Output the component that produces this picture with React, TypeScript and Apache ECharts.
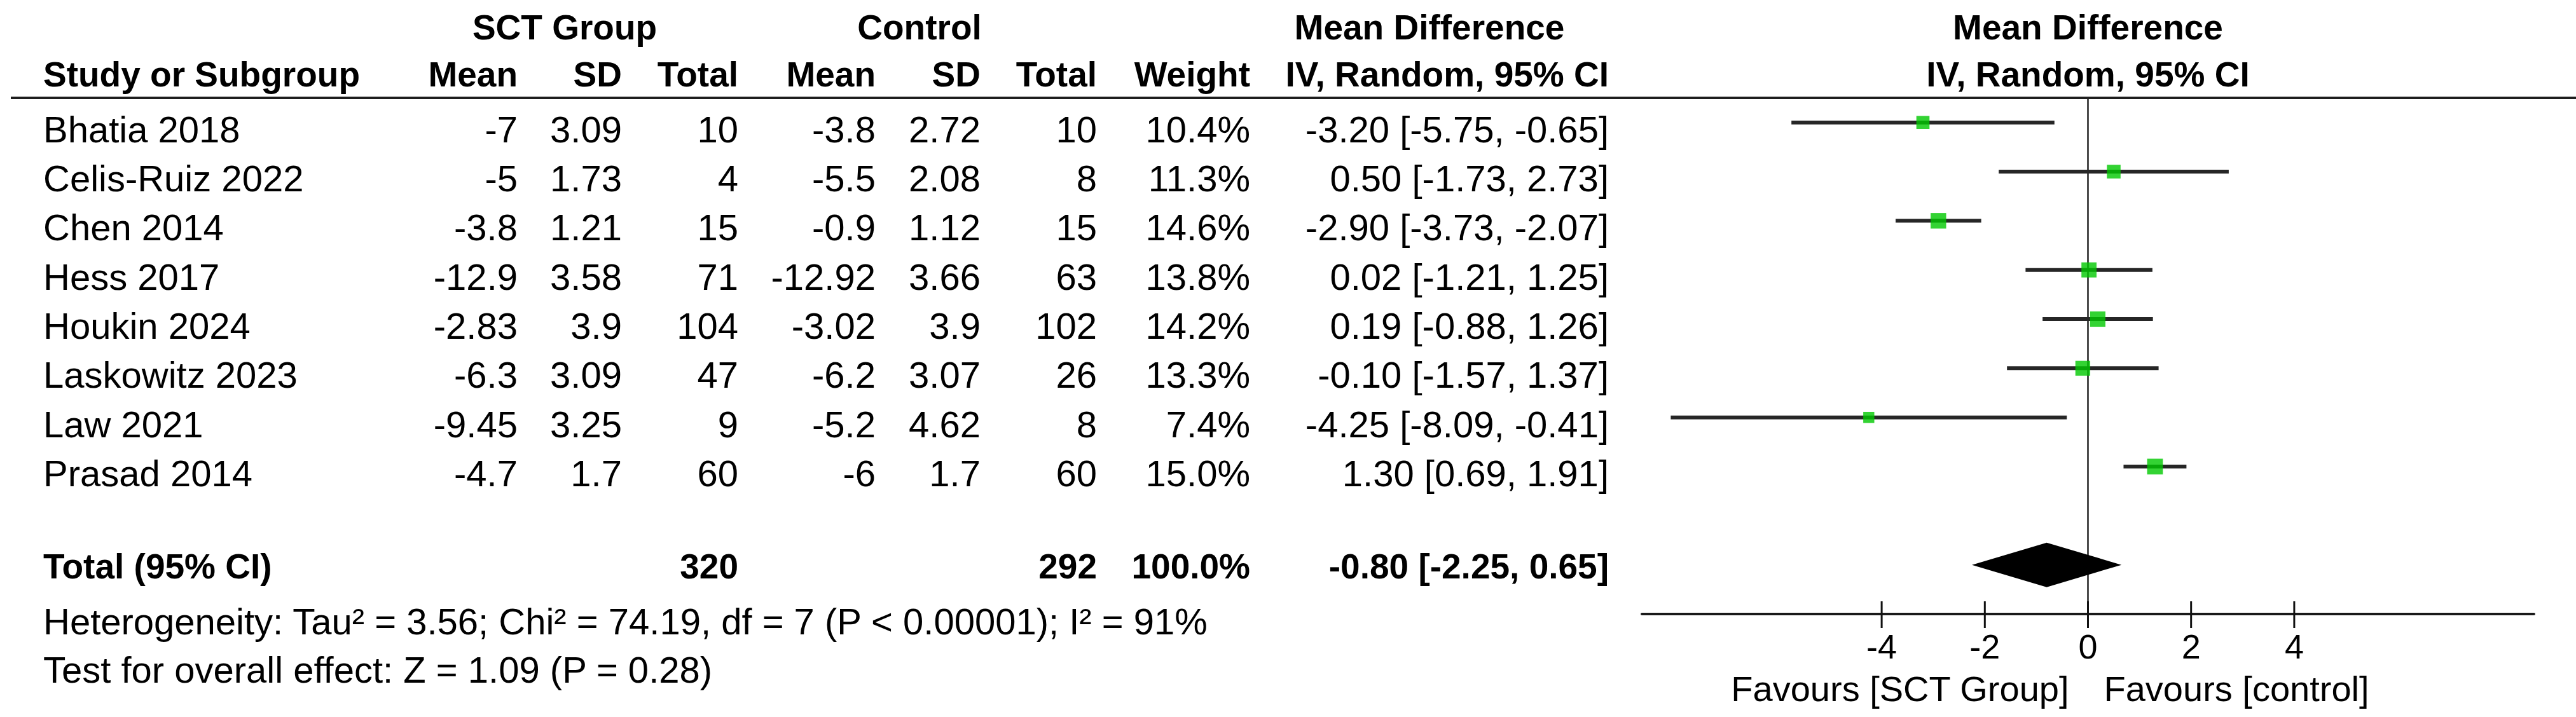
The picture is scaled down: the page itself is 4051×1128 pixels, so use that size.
import React, { useEffect, useRef } from "react";
import * as echarts from "echarts";

// ---------- data ----------
const studies = [
  "Bhatia 2018",
  "Celis-Ruiz 2022",
  "Chen 2014",
  "Hess 2017",
  "Houkin 2024",
  "Laskowitz 2023",
  "Law 2021",
  "Prasad 2014",
];
const sctMean = [-7, -5, -3.8, -12.9, -2.83, -6.3, -9.45, -4.7];
const sctSD = [3.09, 1.73, 1.21, 3.58, 3.9, 3.09, 3.25, 1.7];
const sctTotal = [10, 4, 15, 71, 104, 47, 9, 60];
const ctrlMean = [-3.8, -5.5, -0.9, -12.92, -3.02, -6.2, -5.2, -6];
const ctrlSD = [2.72, 2.08, 1.12, 3.66, 3.9, 3.07, 4.62, 1.7];
const ctrlTotal = [10, 8, 15, 63, 102, 26, 8, 60];
const weights = [10.4, 11.3, 14.6, 13.8, 14.2, 13.3, 7.4, 15.0];
const meanDiff = [-3.2, 0.5, -2.9, 0.02, 0.19, -0.1, -4.25, 1.3];
const ciLow = [-5.75, -1.73, -3.73, -1.21, -0.88, -1.57, -8.09, 0.69];
const ciHigh = [-0.65, 2.73, -2.07, 1.25, 1.26, 1.37, -0.41, 1.91];

const totalSct = 320;
const totalCtrl = 292;
const totalWeight = 100.0;
const totalMD = -0.8;
const totalLow = -2.25;
const totalHigh = 0.65;

const xTicks = [-4, -2, 0, 2, 4];
const heterogeneityText =
  "Heterogeneity: Tau² = 3.56; Chi² = 74.19, df = 7 (P < 0.00001); I² = 91%";
const overallText = "Test for overall effect: Z = 1.09 (P = 0.28)";
const favoursLeft = "Favours [SCT Group]";
const favoursRight = "Favours [control]";

// ---------- layout ----------
const W = 4051;
const H = 1128;
const FONT = "'Liberation Sans', Arial, Helvetica, sans-serif";
const FS = 58;
const FSB = 55;
const INK = "#000";

const fmt2 = (v: number) => v.toFixed(2);
const ciText = (m: number, l: number, h: number) =>
  `${fmt2(m)} [${fmt2(l)}, ${fmt2(h)}]`;

export default function App() {
  const ref = useRef<HTMLDivElement>(null);

  useEffect(() => {
    if (!ref.current) return;
    const chart = echarts.init(ref.current, null, {
      renderer: "svg",
      width: W,
      height: H,
    });
    const totalIdx = studies.length + 1;

    chart.setOption({
      animation: false,
      backgroundColor: "#ffffff",
      grid: { left: 2582, right: 66, top: 154, bottom: 162, containLabel: false },
      xAxis: {
        type: "value",
        min: -8.65,
        max: 8.65,
        position: "bottom",
        axisLine: { show: true, onZero: false, lineStyle: { color: "#1a1a1a", width: 4 } },
        axisTick: { show: false },
        axisLabel: {
          show: true,
          customValues: xTicks,
          fontSize: 54,
          fontFamily: FONT,
          color: INK,
          margin: 24,
        },
        splitLine: { show: false },
      },
      yAxis: {
        type: "value",
        inverse: true,
        min: -0.5,
        max: 10,
        axisLine: { show: true, onZero: true, lineStyle: { color: "#222", width: 2.5 } },
        axisTick: { show: false },
        axisLabel: { show: false },
        splitLine: { show: false },
      },
      series: [
        {
          type: "custom",
          name: "ticks",
          clip: false,
          silent: true,
          data: xTicks.map((v) => [v, 10]),
          encode: { x: 0, y: 1 },
          renderItem: (_p: any, api: any) => {
            const pt = api.coord([api.value(0), api.value(1)]);
            return {
              type: "line",
              shape: { x1: pt[0], y1: pt[1] - 20, x2: pt[0], y2: pt[1] + 22 },
              style: { stroke: "#111", lineWidth: 3 },
            };
          },
        },
        {
          type: "custom",
          name: "CI",
          clip: false,
          silent: true,
          data: studies.map((_, i) => [i, ciLow[i], ciHigh[i]]),
          encode: { x: [1, 2], y: 0 },
          renderItem: (_p: any, api: any) => {
            const row = api.value(0);
            const a = api.coord([api.value(1), row]);
            const b = api.coord([api.value(2), row]);
            return {
              type: "line",
              shape: { x1: a[0], y1: a[1], x2: b[0], y2: b[1] },
              style: { stroke: "#262626", lineWidth: 6 },
            };
          },
          z: 3,
        },
        {
          type: "scatter",
          name: "Mean Difference",
          symbol: "rect",
          silent: true,
          data: meanDiff.map((m, i) => [m, i, weights[i]]),
          symbolSize: (v: number[]) => 6.4 * Math.sqrt(v[2]),
          itemStyle: { color: "#00c800" },
          z: 4,
        },
        {
          type: "custom",
          name: "Total",
          clip: false,
          silent: true,
          data: [[totalIdx, totalLow, totalMD, totalHigh]],
          encode: { x: [1, 2, 3], y: 0 },
          renderItem: (_p: any, api: any) => {
            const row = api.value(0);
            const l = api.coord([api.value(1), row]);
            const m = api.coord([api.value(2), row]);
            const h = api.coord([api.value(3), row]);
            const hh = 35;
            return {
              type: "polygon",
              shape: {
                points: [
                  [l[0], l[1]],
                  [m[0], m[1] - hh],
                  [h[0], h[1]],
                  [m[0], m[1] + hh],
                ],
              },
              style: { fill: "#000" },
            };
          },
          z: 4,
        },
      ],
    });

    const yOf = (v: number) =>
      chart.convertToPixel({ yAxisIndex: 0 } as any, v) as unknown as number;
    const xZero = chart.convertToPixel({ xAxisIndex: 0 } as any, 0) as unknown as number;

    const txt = (
      text: string,
      x: number,
      y: number,
      align: string,
      bold = false,
      size?: number
    ) => ({
      type: "text",
      x,
      y,
      silent: true,
      style: {
        text,
        fontSize: size ?? (bold ? FSB : FS),
        fontFamily: FONT,
        fontWeight: bold ? "bold" : "normal",
        fill: INK,
        align,
        textAlign: align,
        verticalAlign: "middle",
        textVerticalAlign: "middle",
      },
    });

    const els: any[] = [];
    // header line
    els.push({
      type: "line",
      silent: true,
      shape: { x1: 17, y1: 154, x2: W, y2: 154 },
      style: { stroke: "#1e1e1e", lineWidth: 4 },
    });
    // header rows
    const h1 = 43;
    const h2 = 117;
    els.push(txt("SCT Group", 888, h1, "center", true));
    els.push(txt("Control", 1446, h1, "center", true));
    els.push(txt("Mean Difference", 2248, h1, "center", true));
    els.push(txt("Mean Difference", xZero, h1, "center", true));
    els.push(txt("Study or Subgroup", 68, h2, "left", true));
    els.push(txt("Mean", 814, h2, "right", true));
    els.push(txt("SD", 978, h2, "right", true));
    els.push(txt("Total", 1161, h2, "right", true));
    els.push(txt("Mean", 1377, h2, "right", true));
    els.push(txt("SD", 1542, h2, "right", true));
    els.push(txt("Total", 1725, h2, "right", true));
    els.push(txt("Weight", 1966, h2, "right", true));
    els.push(txt("IV, Random, 95% CI", 2530, h2, "right", true));
    els.push(txt("IV, Random, 95% CI", xZero, h2, "center", true));

    // study rows
    studies.forEach((s, i) => {
      const y = yOf(i) + 10.5;
      els.push(txt(s, 68, y, "left"));
      els.push(txt(String(sctMean[i]), 814, y, "right"));
      els.push(txt(String(sctSD[i]), 978, y, "right"));
      els.push(txt(String(sctTotal[i]), 1161, y, "right"));
      els.push(txt(String(ctrlMean[i]), 1377, y, "right"));
      els.push(txt(String(ctrlSD[i]), 1542, y, "right"));
      els.push(txt(String(ctrlTotal[i]), 1725, y, "right"));
      els.push(txt(weights[i].toFixed(1) + "%", 1966, y, "right"));
      els.push(txt(ciText(meanDiff[i], ciLow[i], ciHigh[i]), 2530, y, "right"));
    });

    // total row
    const yt = yOf(totalIdx) + 2;
    els.push(txt("Total (95% CI)", 68, yt, "left", true));
    els.push(txt(String(totalSct), 1161, yt, "right", true));
    els.push(txt(String(totalCtrl), 1725, yt, "right", true));
    els.push(txt(totalWeight.toFixed(1) + "%", 1966, yt, "right", true));
    els.push(txt(ciText(totalMD, totalLow, totalHigh), 2530, yt, "right", true));

    // footnotes
    els.push(txt(heterogeneityText, 68, 977, "left"));
    els.push(txt(overallText, 68, 1053, "left"));

    // favours labels
    els.push(txt(favoursLeft, xZero - 30, 1083, "right", false, 56));
    els.push(txt(favoursRight, xZero + 25, 1083, "left", false, 56));

    chart.setOption({ graphic: { elements: els } });

    return () => chart.dispose();
  }, []);

  return (
    <div
      ref={ref}
      style={{
        position: "fixed",
        left: 0,
        top: 0,
        width: W,
        height: H,
        background: "#fff",
      }}
    />
  );
}
